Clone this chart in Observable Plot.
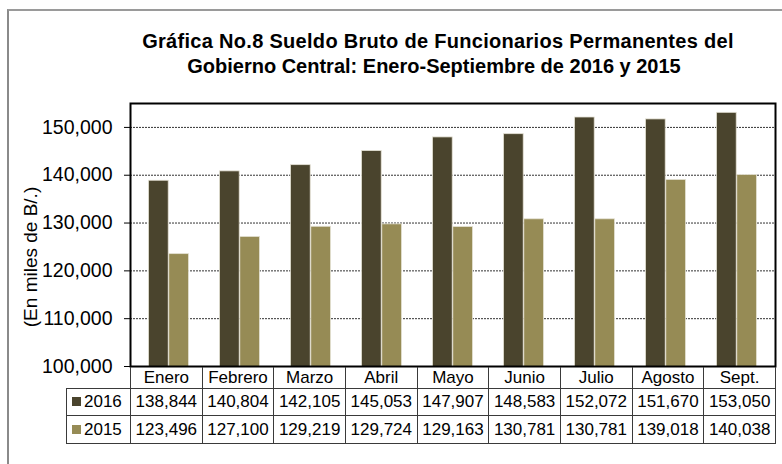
<!DOCTYPE html>
<html>
<head>
<meta charset="utf-8">
<script src="https://cdn.jsdelivr.net/npm/d3@7"></script>
<script src="https://cdn.jsdelivr.net/npm/@observablehq/plot@0.6"></script>
<style>
  body { margin: 0; background: #fff; font-family: "Liberation Sans", Arial, sans-serif; color: #000; }
  #wrap { position: relative; width: 782px; height: 464px; overflow: hidden; background: #fff; }
  #border { position: absolute; left: 7px; top: 9px; width: 900px; height: 600px; border-top: 2px solid #9a9a9a; border-left: 2px solid #8a8a8a; }
  #title { position: absolute; left: 0; top: 29px; width: 868px; text-align: center; font-weight: bold; font-size: 20px; line-height: 25px; }
  #title .l1 { letter-spacing: 0.3px; padding-left: 8px; }
  #chart { position: absolute; left: 0; top: 90px; }
  #tbl { position: absolute; left: 66px; top: 367px; border-collapse: collapse; table-layout: fixed; width: 710px; font-size: 17px; }
  #tbl td { border: 1px solid #3a3a3a; text-align: center; padding: 0; white-space: nowrap; overflow: hidden; }
  #tbl tr.hdr td { border-top: none; height: 21px; }
  #tbl tr.hdr td.blank { border-left: none; border-bottom: 1px solid #3a3a3a; }
  #tbl tr.r1 td { height: 26px; }
  #tbl tr.r2 td { height: 27px; }
  #tbl td.leg { text-align: left; padding-left: 5px; }
  .sw { display: inline-block; width: 9px; height: 9px; margin-right: 3px; vertical-align: 1px; }
</style>
</head>
<body>
<div id="wrap">
  <div id="border"></div>
  <div id="title"></div>
  <div id="chart"></div>
  <table id="tbl"></table>
</div>
<script>
// ---- data ----
const titleLines = ["Gráfica No.8 Sueldo Bruto de Funcionarios Permanentes del", "Gobierno Central: Enero-Septiembre de 2016 y 2015"];
const yLabel = "(En miles de B/.)";
const months = ["Enero", "Febrero", "Marzo", "Abril", "Mayo", "Junio", "Julio", "Agosto", "Sept."];
const series = ["2016", "2015"];
const values2016 = [138844, 140804, 142105, 145053, 147907, 148583, 152072, 151670, 153050];
const values2015 = [123496, 127100, 129219, 129724, 129163, 130781, 130781, 139018, 140038];
const yTicks = [100000, 110000, 120000, 130000, 140000, 150000];
const yDomain = [100000, 155000];
const colors = ["#4a442d", "#968b55"];

const fmt = d3.format(",");
const valuesBySeries = {"2016": values2016, "2015": values2015};

// title
document.getElementById("title").innerHTML = titleLines.map((t, i) => `<div class="l${i + 1}">${t}</div>`).join("");

const rows2016 = months.map((m, i) => ({month: m, year: "2016", value: values2016[i]}));
const rows2015 = months.map((m, i) => ({month: m, year: "2015", value: values2015[i]}));

const chart = Plot.plot({
  width: 782,
  height: 290,
  marginTop: 13,
  marginBottom: 14,
  marginLeft: 130,
  marginRight: 7,
  style: {fontFamily: "'Liberation Sans', Arial, sans-serif", fontSize: "19px", background: "transparent", color: "#000", overflow: "visible"},
  x: {domain: months, padding: 0, axis: null},
  y: {domain: yDomain, axis: null},
  color: {domain: series, range: colors},
  marks: [
    Plot.gridY(yTicks.slice(1), {stroke: "#333", strokeOpacity: 1, strokeDasharray: "2 1", strokeWidth: 1}),
    Plot.barY(rows2016, {x: "month", y: "value", fill: "year", insetLeft: 15.5, insetRight: 35.8, stroke: "#e4e1d4", strokeWidth: 0.8, clip: true}),
    Plot.barY(rows2015, {x: "month", y: "value", fill: "year", insetLeft: 35.8, insetRight: 15.5, stroke: "#e4e1d4", strokeWidth: 0.8, clip: true}),
    Plot.axisY({ticks: yTicks, tickFormat: fmt, tickSize: 6, tickPadding: 12, fontSize: 19.5, label: null, stroke: "#000"}),
    Plot.text([yLabel], {frameAnchor: "left", textAnchor: "middle", rotate: -90, dx: -100, dy: 22, fontSize: 19, fill: "#000"}),
    Plot.frame({stroke: "#000", strokeWidth: 2})
  ]
});
document.getElementById("chart").appendChild(chart);

// data table
const tbl = document.getElementById("tbl");
let html = `<colgroup><col style="width:64px">${months.map(() => `<col style="width:71.67px">`).join("")}</colgroup>`;
html += `<tr class="hdr"><td class="blank"></td>${months.map(m => `<td>${m}</td>`).join("")}</tr>`;
series.forEach((s, k) => {
  html += `<tr class="r${k + 1}"><td class="leg"><span class="sw" style="background:${colors[k]}"></span>${s}</td>${valuesBySeries[s].map(v => `<td>${fmt(v)}</td>`).join("")}</tr>`;
});
tbl.innerHTML = html;
</script>
</body>
</html>
